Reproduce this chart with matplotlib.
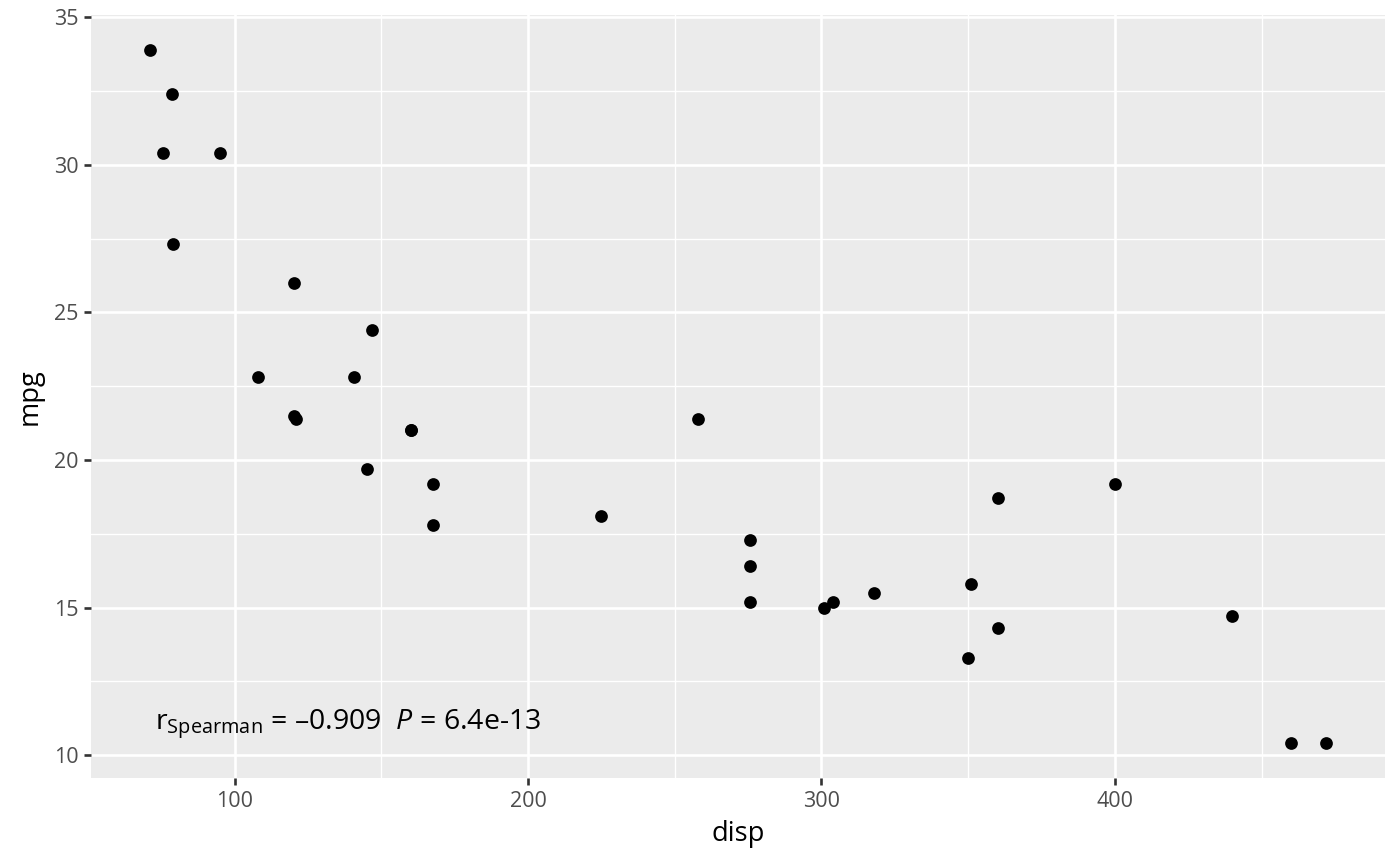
import numpy as np
import matplotlib
matplotlib.use('Agg')
import matplotlib.pyplot as plt
from matplotlib.ticker import MultipleLocator

plt.rcParams['font.family'] = ['Open Sans', 'DejaVu Sans']
plt.rcParams['mathtext.fontset'] = 'custom'
plt.rcParams['mathtext.rm'] = 'Open Sans'
plt.rcParams['mathtext.it'] = 'Open Sans:italic'

# mtcars: displacement and miles per gallon
disp = [160, 160, 108, 258, 360, 225, 360, 146.7, 140.8, 167.6, 167.6,
        275.8, 275.8, 275.8, 472, 460, 440, 78.7, 75.7, 71.1, 120.1, 318,
        304, 350, 400, 79, 120.3, 95.1, 351, 145, 301, 121]
mpg = [21.0, 21.0, 22.8, 21.4, 18.7, 18.1, 14.3, 24.4, 22.8, 19.2, 17.8,
       16.4, 17.3, 15.2, 10.4, 10.4, 14.7, 32.4, 30.4, 33.9, 21.5, 15.5,
       15.2, 13.3, 19.2, 27.3, 26.0, 30.4, 15.8, 19.7, 15.0, 21.4]

r_label = r'r$_{\mathrm{Spearman}}$ = –0.909  $\it{P}$ = 6.4e-13'
label_pos = (73.0, 10.88)

fig = plt.figure(figsize=(14, 8.66), dpi=100)
ax = fig.add_axes([91 / 1400, 1 - 778 / 866, 1294 / 1400, 763 / 866])
ax.set_facecolor('#EBEBEB')

xr = max(disp) - min(disp)
yr = max(mpg) - min(mpg)
ax.set_xlim(min(disp) - 0.05 * xr, max(disp) + 0.05 * xr)
ax.set_ylim(min(mpg) - 0.05 * yr, max(mpg) + 0.05 * yr)

ax.xaxis.set_major_locator(MultipleLocator(100))
ax.xaxis.set_minor_locator(MultipleLocator(50))
ax.yaxis.set_major_locator(MultipleLocator(5))
ax.yaxis.set_minor_locator(MultipleLocator(2.5))
ax.grid(which='major', color='white', linewidth=1.9)
ax.grid(which='minor', color='white', linewidth=1.0)
ax.set_axisbelow(True)

for s in ax.spines.values():
    s.set_visible(False)

ax.tick_params(which='major', length=5.2, width=1.9, color='#333333',
               labelsize=15.5, labelcolor='#4D4D4D', pad=4)
ax.tick_params(which='minor', length=0)

ax.scatter(disp, mpg, s=84, color='black', zorder=3, linewidths=0)

ax.text(label_pos[0], label_pos[1], r_label, fontsize=20.5, va='baseline',
        ha='left', color='black', zorder=4)

ax.set_xlabel('disp', fontsize=19.6, labelpad=6)
ax.set_ylabel('mpg', fontsize=19.6, labelpad=7)

fig.savefig('out.png', dpi=100)
